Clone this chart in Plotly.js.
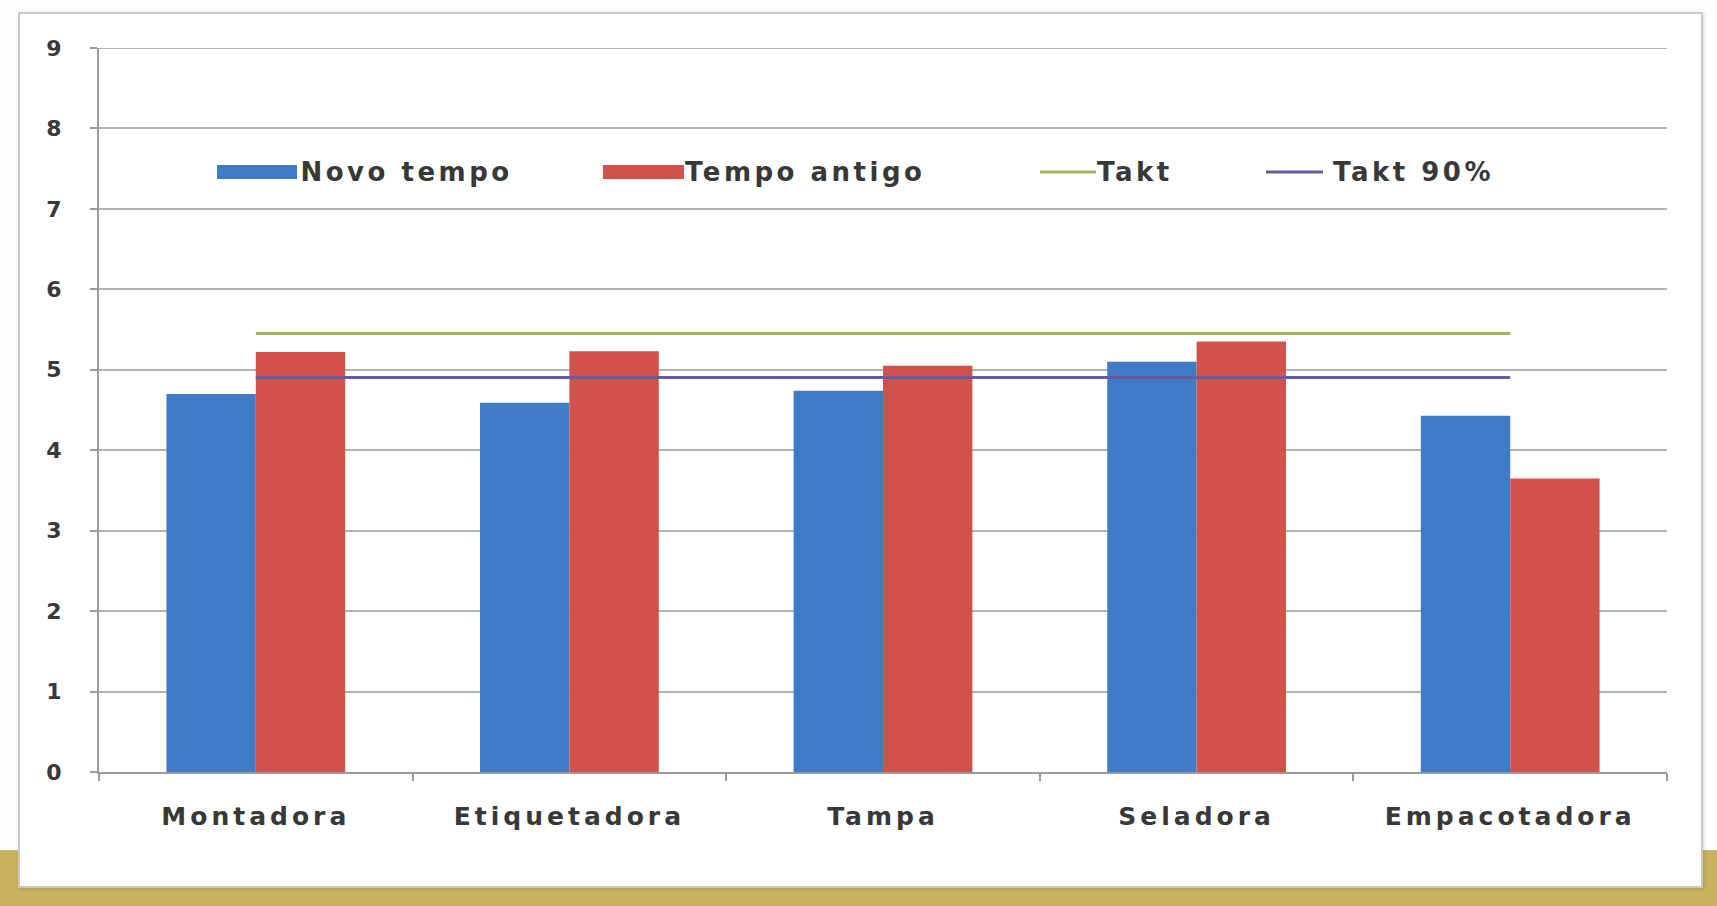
<!DOCTYPE html>
<html>
<head>
<meta charset="utf-8">
<script src="https://cdn.plot.ly/plotly-3.0.1.min.js"></script>
<style>
  html, body { margin: 0; padding: 0; background: #ffffff; }
  #page { position: relative; width: 1717px; height: 906px; overflow: hidden; background: #fdfdfd; }
  .gold { position: absolute; background: #c8b25e; }
  #card { position: absolute; left: 18px; top: 12px; width: 1685px; height: 876px;
          background: #ffffff; border: 2px solid #c9c9c9; box-sizing: border-box;
          box-shadow: 1px 1px 3px rgba(0,0,0,0.15); }
  #chart { position: absolute; left: 0; top: 0; width: 1717px; height: 906px; }
  /* wide, loosely tracked label lettering */
  #chart .xtick text { letter-spacing: 4px; }
  #chart .annotation-text { letter-spacing: 3.5px; }
</style>
</head>
<body>
<div id="page">
  <div class="gold" style="left:0; top:850px; width:18px; height:56px;"></div>
  <div class="gold" style="left:1703px; top:850px; width:14px; height:56px;"></div>
  <div class="gold" style="left:0; top:888px; width:1717px; height:18px;"></div>
  <div id="card"></div>
  <div id="chart"></div>
</div>
<script>
// Workstations along the line
const categories = ['Montadora', 'Etiquetadora', 'Tampa', 'Seladora', 'Empacotadora'];

// Cycle times per workstation
const novoTempo = [4.70, 4.59, 4.74, 5.10, 4.43];
const tempoAntigo = [5.22, 5.23, 5.05, 5.35, 3.65];

// Takt time and its 90% reference
const takt = [5.45, 5.45, 5.45, 5.45, 5.45];
const takt90 = [4.905, 4.905, 4.905, 4.905, 4.905];

const seriesNames = ['Novo tempo', 'Tempo antigo', 'Takt', 'Takt 90%'];
const yTicks = [0, 1, 2, 3, 4, 5, 6, 7, 8, 9];
const yMax = 9;

const colBlue = '#3f7bc6';
const colRed = '#d0524a';
const colGreen = '#9db25a';
const colPurple = '#6a5a9c';
const gridColor = '#b2b2b2';

const textFont = 'DejaVu Sans, Arial, sans-serif';
const textColor = '#383838';

const traces = [
  { type: 'bar', name: seriesNames[0], x: categories, y: novoTempo,
    marker: { color: colBlue }, hoverinfo: 'x+y' },
  { type: 'bar', name: seriesNames[1], x: categories, y: tempoAntigo,
    marker: { color: colRed }, hoverinfo: 'x+y' },
  { type: 'scatter', mode: 'lines', name: seriesNames[2], x: categories, y: takt,
    line: { color: colGreen, width: 3 } },
  { type: 'scatter', mode: 'lines', name: seriesNames[3], x: categories, y: takt90,
    line: { color: colPurple, width: 3 } }
];

// Plot area: x 99..1667, y 48..772 in page pixels
const L = 99, R = 1667, T = 48, B = 772;
const px = v => (v - L) / (R - L);
const py = v => (B - v) / (B - T);

// Hand-placed legend row (wide swatches, text centred on its slot)
const legendY = 172;
const legendItems = [
  { kind: 'rect', color: colBlue, x0: 217, x1: 297, tc: 406 },
  { kind: 'rect', color: colRed, x0: 603, x1: 684, tc: 805 },
  { kind: 'line', color: colGreen, x0: 1040, x1: 1096, tc: 1135 },
  { kind: 'line', color: colPurple, x0: 1266, x1: 1323, tc: 1413 }
];

// top gridline sits on the range edge, so it is drawn as a shape
const shapes = [
  { type: 'line', xref: 'paper', yref: 'y', x0: 0, x1: 1, y0: yMax, y1: yMax,
    layer: 'below', line: { color: gridColor, width: 2 } }
];
const annotations = [];
legendItems.forEach((it, i) => {
  if (it.kind === 'rect') {
    shapes.push({ type: 'rect', xref: 'paper', yref: 'paper',
      x0: px(it.x0), x1: px(it.x1), y0: py(legendY + 7), y1: py(legendY - 7),
      fillcolor: it.color, line: { width: 0 } });
  } else {
    shapes.push({ type: 'line', xref: 'paper', yref: 'paper',
      x0: px(it.x0), x1: px(it.x1), y0: py(legendY), y1: py(legendY),
      line: { color: it.color, width: 3 } });
  }
  annotations.push({ xref: 'paper', yref: 'paper', x: px(it.tc), y: py(legendY),
    xanchor: 'center', yanchor: 'middle', showarrow: false, text: seriesNames[i],
    font: { family: textFont, size: 26, color: textColor, weight: 'bold' } });
});

const layout = {
  width: 1717, height: 906,
  margin: { l: L, r: 1717 - R, t: T, b: 906 - B, pad: 0 },
  paper_bgcolor: 'rgba(0,0,0,0)',
  plot_bgcolor: 'rgba(0,0,0,0)',
  showlegend: false,
  barmode: 'group',
  bargap: 0.43,
  bargroupgap: 0,
  xaxis: {
    type: 'category',
    showline: true, linecolor: '#9a9a9a', linewidth: 2,
    ticks: 'outside', tickson: 'boundaries', ticklen: 7, tickcolor: '#9a9a9a', tickwidth: 2,
    showgrid: false, zeroline: false,
    tickfont: { family: textFont, size: 25, color: textColor, weight: 'bold' },
    ticklabelstandoff: 21
  },
  yaxis: {
    range: [0, yMax], tickvals: yTicks, ticktext: yTicks.map(String),
    showline: true, linecolor: '#9a9a9a', linewidth: 2,
    ticks: 'outside', ticklen: 7, tickcolor: '#9a9a9a', tickwidth: 2,
    showgrid: true, gridcolor: gridColor, gridwidth: 2,
    zeroline: false,
    tickfont: { family: textFont, size: 22, color: textColor, weight: 'bold' },
    ticklabelstandoff: 24
  },
  shapes: shapes,
  annotations: annotations
};

Plotly.newPlot('chart', traces, layout, { displayModeBar: false, staticPlot: true });
</script>
</body>
</html>
